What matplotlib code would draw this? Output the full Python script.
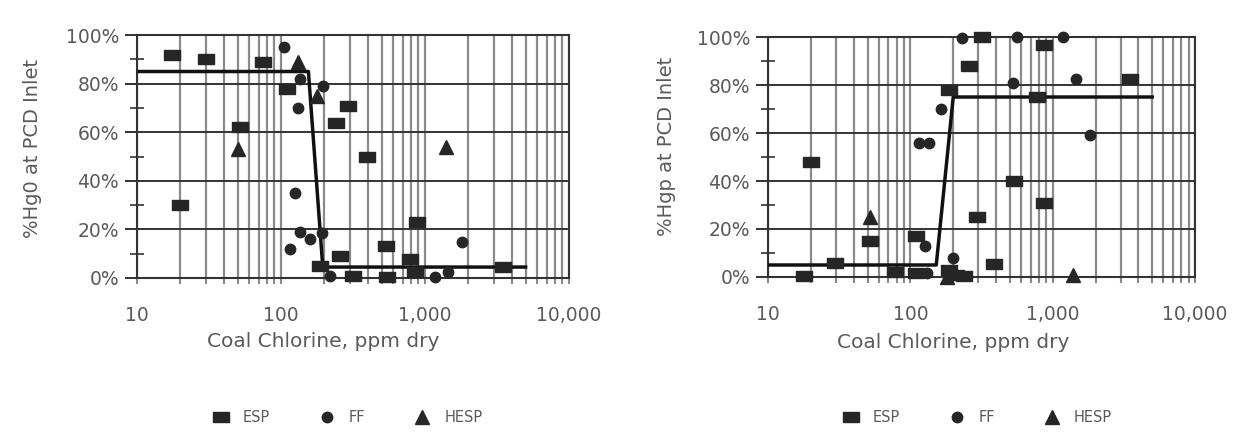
import matplotlib
matplotlib.use('Agg')
import matplotlib.pyplot as plt
from matplotlib.ticker import FixedLocator, FuncFormatter, LogLocator, NullFormatter
from matplotlib.lines import Line2D

# ---- left panel: %Hg0 at PCD inlet ----
hg0_esp_x = [17.5, 30, 52, 20, 75, 110, 292, 240, 397, 880, 257, 537, 787, 187, 315, 545, 850, 3470]
hg0_esp_y = [92, 90, 62, 30, 89, 78, 71, 64, 50, 23, 9, 13, 8, 5, 1, 0.5, 2.5, 4.5]
hg0_ff_x = [105, 132, 126, 116, 135, 158, 135, 195, 193, 218, 1810, 1170, 1440]
hg0_ff_y = [95, 70, 35, 12, 19, 16, 82, 79, 18.5, 1, 15, 0.5, 2.5]
hg0_hesp_x = [50, 131, 178, 1400]
hg0_hesp_y = [53, 89, 75, 54]
hg0_fit_x = [10, 155, 195, 5000]
hg0_fit_y = [85, 85, 4.5, 4.5]

# ---- right panel: %Hgp at PCD inlet ----
hgp_esp_x = [18, 20, 29.5, 52, 78, 110, 110, 188, 321, 257, 537, 870, 292, 390, 3470, 780, 210, 240, 188, 870]
hgp_esp_y = [0.5, 48, 6, 15, 2, 17, 1.5, 78, 100, 88, 40, 31, 25, 5.4, 82.5, 75, 1, 0.5, 3, 96.5]
hgp_ff_x = [126, 130, 163, 115, 135, 229, 565, 1180, 525, 1460, 1820, 200]
hgp_ff_y = [13, 1.5, 70, 56, 56, 99.5, 100, 100, 81, 82.5, 59, 8]
hgp_hesp_x = [52, 180, 1400]
hgp_hesp_y = [25, 0, 1]
hgp_fit_x = [10, 152, 200, 5000]
hgp_fit_y = [5, 5, 75, 75]

x_ticks = [10, 100, 1000, 10000]
y_ticks = [0, 20, 40, 60, 80, 100]
y_minor = [10, 30, 50, 70, 90]

plt.rcParams['font.family'] = ['DejaVu Sans']
text_col = '#5a5a5a'
mark_col = '#262626'
# slightly wide rectangle, like the scanned ESP symbol
rect = [(-0.75, -0.5), (0.75, -0.5), (0.75, 0.5), (-0.75, 0.5), (-0.75, -0.5)]

fig = plt.figure(figsize=(12.39, 4.33), dpi=100)
ax1 = fig.add_axes([0.1106, 0.358, 0.3486, 0.561])
ax2 = fig.add_axes([0.6199, 0.3603, 0.3446, 0.5542])


def style(ax, ylabel, xlab_pos, ylab_pos):
    ax.set_xscale('log')
    ax.set_xlim(10, 10000)
    ax.set_ylim(0, 100)
    ax.xaxis.set_major_locator(FixedLocator(x_ticks))
    ax.xaxis.set_minor_locator(LogLocator(base=10, subs=range(2, 10)))
    ax.xaxis.set_minor_formatter(NullFormatter())
    ax.xaxis.set_major_formatter(FuncFormatter(lambda v, p: f'{int(round(v)):,}'))
    ax.yaxis.set_major_locator(FixedLocator(y_ticks))
    ax.yaxis.set_minor_locator(FixedLocator(y_minor))
    ax.yaxis.set_major_formatter(FuncFormatter(lambda v, p: f'{int(v)}%'))
    ax.grid(True, which='both', axis='x', color='#8a8a8a', lw=1.6)
    ax.grid(True, which='major', axis='y', color='#333333', lw=1.4)
    ax.set_axisbelow(True)
    for s in ax.spines.values():
        s.set_color('#333333')
        s.set_linewidth(1.5)
    ax.tick_params(axis='x', which='both', length=4, color='#8a8a8a', width=1.5,
                   pad=16, labelsize=13.5, labelcolor=text_col)
    ax.tick_params(axis='y', which='major', length=9, color='#333333', width=1.4,
                   labelsize=13.5, labelcolor=text_col, pad=4)
    ax.tick_params(axis='y', which='minor', direction='inout', length=10,
                   color='#444444', width=1.3)
    ax.set_xlabel('Coal Chlorine, ppm dry', fontsize=14.5, color=text_col, va='center')
    ax.xaxis.set_label_coords(*xlab_pos)
    ax.set_ylabel(ylabel, fontsize=14, color=text_col, va='center')
    ax.yaxis.set_label_coords(*ylab_pos)


style(ax1, '%Hg0 at PCD Inlet', (0.43, -0.263), (-0.241, 0.535))
style(ax2, '%Hgp at PCD Inlet', (0.433, -0.275), (-0.237, 0.546))

for ax, ex, ey, fx, fy, hx, hy, lx, ly in [
        (ax1, hg0_esp_x, hg0_esp_y, hg0_ff_x, hg0_ff_y, hg0_hesp_x, hg0_hesp_y, hg0_fit_x, hg0_fit_y),
        (ax2, hgp_esp_x, hgp_esp_y, hgp_ff_x, hgp_ff_y, hgp_hesp_x, hgp_hesp_y, hgp_fit_x, hgp_fit_y)]:
    ax.plot(lx, ly, color='#111111', lw=2.5, zorder=3)
    ax.plot(ex, ey, ls='none', marker=rect, ms=11, color=mark_col, clip_on=False, zorder=4)
    ax.plot(fx, fy, ls='none', marker='o', ms=7.5, color=mark_col, clip_on=False, zorder=4)
    ax.plot(hx, hy, ls='none', marker='^', ms=10, color=mark_col, clip_on=False, zorder=4)

handles = [Line2D([], [], ls='none', marker=rect, ms=11, color=mark_col),
           Line2D([], [], ls='none', marker='o', ms=7.5, color=mark_col),
           Line2D([], [], ls='none', marker='^', ms=10, color=mark_col)]
labels = ['ESP', 'FF', 'HESP']
for cx in [0.281, 0.789]:
    fig.legend(handles, labels, loc='center', bbox_to_anchor=(cx, 0.036), ncol=3,
               frameon=False, fontsize=10.5, labelcolor=text_col, handlelength=1.0,
               handletextpad=1.0, columnspacing=3.4)

fig.savefig('out.png', dpi=100, facecolor='white')
